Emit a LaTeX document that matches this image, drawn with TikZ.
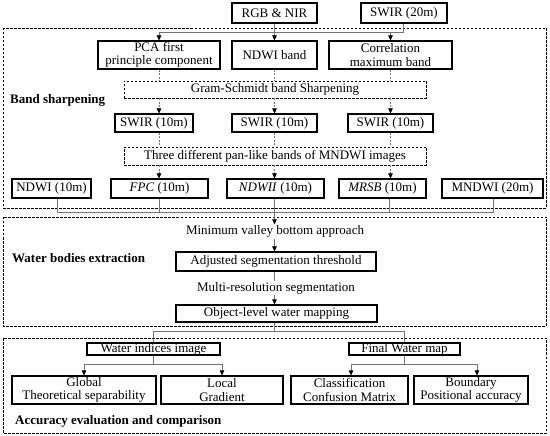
\documentclass[tikz,border=0pt]{standalone}
\usepackage{fontspec}
\setmainfont{Liberation Serif}
\usetikzlibrary{arrows.meta}
\begin{document}
\begin{tikzpicture}[x=1pt,y=-1pt,
  every node/.style={font=\fontsize{13}{13.5}\selectfont},
  box/.style={draw=black, line width=1.1pt, inner sep=0pt, align=center},
  dbox/.style={draw=black, line width=0.9pt, dash pattern=on 2.5pt off 1.5pt, inner sep=0pt, align=center},
  frame/.style={draw=black, line width=0.9pt, dash pattern=on 2.5pt off 1.5pt},
  conn/.style={draw=black!55, line width=0.6pt},
  dconn/.style={draw=black!55, line width=0.6pt, dash pattern=on 2pt off 1.5pt},
  tip/.style={-{Triangle[length=5pt,width=4.5pt,black]}},
  lbl/.style={font=\fontsize{13}{13.5}\selectfont\bfseries, anchor=west, inner sep=0pt}
]
\useasboundingbox (0,0) rectangle (550,436);
% frames
\draw[frame] (3,28) rectangle (546,208);
\draw[frame] (3,217) rectangle (546,326);
\draw[frame] (3,338) rectangle (546,433);
% top
\node[box, minimum width=85pt, minimum height=20pt] (rgb) at (274.5,13) {RGB \& NIR};
\node[box, minimum width=86pt, minimum height=20pt] (swir20) at (404,13) {SWIR (20m)};
\node[box, minimum width=122pt, minimum height=28pt] (pca) at (159,55) {PCA first\\principle component};
\node[box, minimum width=85pt, minimum height=28pt] (ndwib) at (274.5,55) {NDWI band};
\node[box, minimum width=123pt, minimum height=28pt] (corr) at (390.5,55) {Correlation\\maximum band};
\node[dbox, minimum width=302pt, minimum height=17pt] (gs) at (275,89.5) {Gram-Schmidt band Sharpening};
\node[box, minimum width=78pt, minimum height=18pt] (s1) at (154,123) {SWIR (10m)};
\node[box, minimum width=85pt, minimum height=18pt] (s2) at (274.5,123) {SWIR (10m)};
\node[box, minimum width=85pt, minimum height=18pt] (s3) at (390.5,123) {SWIR (10m)};
\node[dbox, minimum width=302pt, minimum height=18pt] (three) at (275,156) {Three different pan-like bands of MNDWI images};
\node[box, minimum width=79pt, minimum height=19pt] (r1) at (51.5,188.5) {NDWI (10m)};
\node[box, minimum width=97pt, minimum height=19pt] (r2) at (159.5,188.5) {\textit{FPC} (10m)};
\node[box, minimum width=97pt, minimum height=19pt] (r3) at (275.5,188.5) {\textit{NDWII} (10m)};
\node[box, minimum width=87pt, minimum height=19pt] (r4) at (382.5,188.5) {\textit{MRSB} (10m)};
\node[box, minimum width=101pt, minimum height=19pt] (r5) at (492.5,188.5) {MNDWI (20m)};
\node[lbl] (bs) at (10,100) {Band sharpening};
% middle
\node[inner sep=1pt] (mv) at (275,231.5) {Minimum valley bottom approach};
\node[box, minimum width=200pt, minimum height=19pt] (adj) at (276,261.5) {Adjusted segmentation threshold};
\node[inner sep=1pt] (mr) at (276,288) {Multi-resolution segmentation};
\node[box, minimum width=201pt, minimum height=17pt] (obj) at (276.5,313.5) {Object-level water mapping};
\node[lbl] (wb) at (12,258) {Water bodies extraction};
% bottom
\node[box, minimum width=133pt, minimum height=12pt] (wi) at (153.5,349) {Water indices image};
\node[box, minimum width=111pt, minimum height=12pt] (fw) at (404.5,349) {Final Water map};
\node[box, minimum width=144pt, minimum height=28pt] (glob) at (84,390) {Global\\Theoretical separability};
\node[box, minimum width=122pt, minimum height=28pt] (loc) at (222,390) {Local\\Gradient};
\node[box, minimum width=117pt, minimum height=28pt] (cls) at (349.5,390) {Classification\\Confusion Matrix};
\node[box, minimum width=114pt, minimum height=28pt] (bnd) at (471,390) {Boundary\\Positional accuracy};
\node[lbl] (ae) at (15,421) {Accuracy evaluation and comparison};
% column coordinates
\coordinate (c1) at (159,0);
\coordinate (c2) at (274.5,0);
\coordinate (c3) at (390.5,0);
\coordinate (h1) at (0,32);
% top connectors
\draw[conn,tip] (rgb.south) -- (ndwib.north);
\draw[conn] (swir20.south -| 403,0) -- (403,32) -- (c1 |- h1);
\draw[conn,tip] (c1 |- h1) -- (c1 |- pca.north);
\draw[conn,tip] (c3 |- h1) -- (c3 |- corr.north);
% dashed to GS
\draw[dconn] (c1 |- pca.south) -- (c1 |- gs.north);
\draw[dconn] (c2 |- ndwib.south) -- (c2 |- gs.north);
\draw[dconn] (c3 |- corr.south) -- (c3 |- gs.north);
\draw[dconn,tip] (c1 |- gs.south) -- (c1 |- s1.north);
\draw[dconn,tip] (c2 |- gs.south) -- (c2 |- s2.north);
\draw[dconn,tip] (c3 |- gs.south) -- (c3 |- s3.north);
\draw[dconn] (c1 |- s1.south) -- (c1 |- three.north);
\draw[dconn] (c2 |- s2.south) -- (c2 |- three.north);
\draw[dconn] (c3 |- s3.south) -- (c3 |- three.north);
\draw[dconn,tip] (c1 |- three.south) -- (c1 |- r2.north);
\draw[dconn,tip] (c2 |- three.south) -- (c2 |- r3.north);
\draw[dconn,tip] (c3 |- three.south) -- (c3 |- r4.north);
% merge
\coordinate (h2) at (0,212);
\draw[conn] (57,0 |- r1.south) -- (57,212) -- (493,212) -- (493,0 |- r5.south);
\draw[conn] (c1 |- r2.south) -- (c1 |- h2);
\draw[conn] (389,0 |- r4.south) -- (389,212);
\draw[conn,tip] (c2 |- r3.south) -- (c2 |- mv.north);
\draw[conn,tip] (c2 |- mv.south) -- (c2 |- adj.north);
\draw[conn] (c2 |- adj.south) -- (c2 |- mr.north);
\draw[conn,tip] (c2 |- mr.south) -- (c2 |- obj.north);
% bottom connectors
\coordinate (h3) at (0,331);
\draw[conn] (c2 |- obj.south) -- (c2 |- h3);
\draw[conn] (wi.north) -- (wi.north |- h3) -- (fw.north |- h3) -- (fw.north);
\coordinate (h4) at (0,364);
\draw[conn] (wi.south) -- (wi.south |- h4);
\draw[conn,tip] (glob.north |- h4) -- (glob.north);
\draw[conn] (glob.north |- h4) -- (loc.north |- h4);
\draw[conn,tip] (loc.north |- h4) -- (loc.north);
\draw[conn] (fw.south) -- (fw.south |- h4);
\draw[conn,tip] (351,364) -- (351,0 |- cls.north);
\draw[conn] (351,364) -- (477,364);
\draw[conn,tip] (477,364) -- (477,0 |- bnd.north);
\end{tikzpicture}
\end{document}
